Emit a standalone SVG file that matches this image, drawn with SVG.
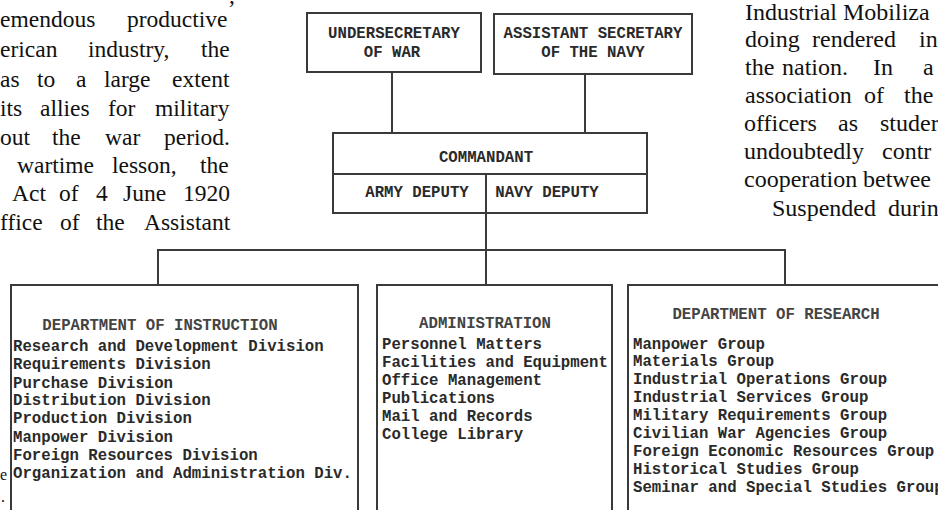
<svg xmlns="http://www.w3.org/2000/svg" width="938" height="510" viewBox="0 0 938 510">
<style>
.body{font-family:"Liberation Serif","Times New Roman",serif;fill:#111;}
.bl{font-size:23.5px;}
.br{font-size:24px;}
.tw{font-family:"Liberation Mono","Courier New",monospace;font-size:15.7px;font-weight:bold;fill:#2a2a2a;}
.tt{font-family:"Liberation Mono","Courier New",monospace;font-size:15.7px;font-weight:bold;fill:#444;}
.c{text-anchor:middle;}
.box{fill:none;stroke:#3a3a3a;stroke-width:2;}
.ln{fill:none;stroke:#3a3a3a;stroke-width:2;}
</style>
<rect x="0" y="0" width="938" height="510" fill="#fff"/>

<g id="body-left" class="body bl">
<text x="229" y="3">,</text>
<text y="27"><tspan x="0">emendous</tspan><tspan x="127">productive</tspan></text>
<text y="57"><tspan x="0">erican</tspan><tspan x="88">industry,</tspan><tspan x="201">the</tspan></text>
<text y="87"><tspan x="0">as</tspan><tspan x="37">to</tspan><tspan x="76">a</tspan><tspan x="104">large</tspan><tspan x="172">extent</tspan></text>
<text y="116"><tspan x="0">its</tspan><tspan x="40">allies</tspan><tspan x="108">for</tspan><tspan x="155">military</tspan></text>
<text y="145"><tspan x="0">out</tspan><tspan x="52">the</tspan><tspan x="105">war</tspan><tspan x="164">period.</tspan></text>
<text y="173"><tspan x="17">wartime</tspan><tspan x="112">lesson,</tspan><tspan x="200">the</tspan></text>
<text y="201"><tspan x="12">Act</tspan><tspan x="59">of</tspan><tspan x="96">4</tspan><tspan x="123">June</tspan><tspan x="183">1920</tspan></text>
<text y="230"><tspan x="0">ffice</tspan><tspan x="60">of</tspan><tspan x="96">the</tspan><tspan x="144">Assistant</tspan></text>
</g>
<g id="body-left-bottom" class="body" font-size="16">
<text x="0" y="480">e</text>
<text x="1" y="502">.</text>
</g>

<g id="body-right" class="body br">
<text y="20"><tspan x="745">Industrial</tspan><tspan x="843">Mobiliza</tspan></text>
<text y="47"><tspan x="745">doing</tspan><tspan x="812">rendered</tspan><tspan x="919">in</tspan></text>
<text y="75"><tspan x="745">the</tspan><tspan x="782">nation.</tspan><tspan x="873">In</tspan><tspan x="923">a</tspan></text>
<text y="103"><tspan x="745">association</tspan><tspan x="864">of</tspan><tspan x="904">the</tspan></text>
<text y="131"><tspan x="744">officers</tspan><tspan x="838">as</tspan><tspan x="880">studer</tspan></text>
<text y="159"><tspan x="744">undoubtedly</tspan><tspan x="882">contr</tspan></text>
<text y="187"><tspan x="744">cooperation</tspan><tspan x="863">betwee</tspan></text>
<text y="216"><tspan x="772">Suspended</tspan><tspan x="888">durin</tspan></text>
</g>

<g id="connectors">
<line class="ln" x1="392" y1="72" x2="392" y2="133"/>
<line class="ln" x1="585" y1="74" x2="585" y2="133"/>
<line class="ln" x1="486" y1="213" x2="486" y2="285"/>
<line class="ln" x1="157" y1="250" x2="786" y2="250"/>
<line class="ln" x1="158" y1="250" x2="158" y2="285"/>
<line class="ln" x1="785" y1="250" x2="785" y2="285"/>
</g>

<g id="undersecretary">
<rect class="box" x="307" y="13" width="174" height="59"/>
<text class="tw c" x="394" y="38">UNDERSECRETARY</text>
<text class="tw c" x="392" y="57">OF WAR</text>
</g>

<g id="assistant-secretary">
<rect class="box" x="494" y="14" width="198" height="60"/>
<text class="tw c" x="593" y="38">ASSISTANT SECRETARY</text>
<text class="tw c" x="593" y="57">OF THE NAVY</text>
</g>

<g id="commandant">
<rect class="box" x="333" y="133" width="314" height="80"/>
<line class="ln" x1="333" y1="174" x2="647" y2="174"/>
<line class="ln" x1="486" y1="174" x2="486" y2="213"/>
<text class="tw c" x="486" y="162">COMMANDANT</text>
<text class="tw c" x="417" y="197">ARMY DEPUTY</text>
<text class="tw c" x="547" y="197">NAVY DEPUTY</text>
</g>

<g id="dept-instruction">
<rect class="box" x="11" y="285" width="347" height="250"/>
<text class="tt c" x="160" y="330">DEPARTMENT OF INSTRUCTION</text>
<text class="tw" x="13" y="351">Research and Development Division</text>
<text class="tw" x="13" y="369">Requirements Division</text>
<text class="tw" x="13" y="388">Purchase Division</text>
<text class="tw" x="13" y="405">Distribution Division</text>
<text class="tw" x="13" y="423">Production Division</text>
<text class="tw" x="13" y="442">Manpower Division</text>
<text class="tw" x="13" y="460">Foreign Resources Division</text>
<text class="tw" x="13" y="478">Organization and Administration Div.</text>
</g>

<g id="administration">
<rect class="box" x="377" y="285" width="235" height="250"/>
<text class="tt c" x="485" y="328">ADMINISTRATION</text>
<text class="tw" x="382" y="349">Personnel Matters</text>
<text class="tw" x="382" y="367">Facilities and Equipment</text>
<text class="tw" x="382" y="385">Office Management</text>
<text class="tw" x="382" y="403">Publications</text>
<text class="tw" x="382" y="421">Mail and Records</text>
<text class="tw" x="382" y="439">College Library</text>
</g>

<g id="dept-research">
<rect class="box" x="628" y="285" width="340" height="250"/>
<text class="tt c" x="776" y="319">DEPARTMENT OF RESEARCH</text>
<text class="tw" x="633" y="349">Manpower Group</text>
<text class="tw" x="633" y="366">Materials Group</text>
<text class="tw" x="633" y="384">Industrial Operations Group</text>
<text class="tw" x="633" y="402">Industrial Services Group</text>
<text class="tw" x="633" y="420">Military Requirements Group</text>
<text class="tw" x="633" y="438">Civilian War Agencies Group</text>
<text class="tw" x="633" y="456">Foreign Economic Resources Group</text>
<text class="tw" x="633" y="474">Historical Studies Group</text>
<text class="tw" x="633" y="492">Seminar and Special Studies Group</text>
</g>
</svg>
